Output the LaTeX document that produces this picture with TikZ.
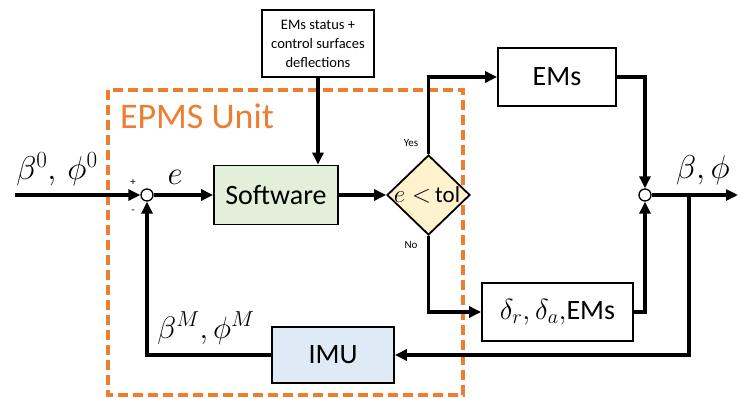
\RequirePackage{fix-cm}
\documentclass[tikz,border=0pt]{standalone}
\usepackage{fontspec}
\setmainfont{Carlito}
\usetikzlibrary{shapes.geometric,arrows.meta}
\definecolor{swgreen}{HTML}{E2F0D9}
\definecolor{imublue}{HTML}{DEEBF7}
\definecolor{decyel}{HTML}{FFF2CC}
\definecolor{epms}{HTML}{ED7D31}
\begin{document}
\begin{tikzpicture}[x=1pt,y=-1pt,
  blk/.style={draw, line width=1.8pt, inner sep=0pt, align=center},
  conn/.style={line width=3.5pt, -{Triangle[length=12pt,width=11pt]}},
  sumc/.style={circle, draw, fill=white, line width=1.3pt, minimum size=12pt, inner sep=0pt},
  big/.style={font=\fontsize{28}{32}\selectfont},
  mathlbl/.style={font=\fontsize{33}{38}\selectfont, inner sep=0pt},
  tiny/.style={font=\fontsize{11}{13}\selectfont, inner sep=0pt}]
\useasboundingbox (0,0) rectangle (740,399);
% EPMS unit frame
\draw[epms, line width=3.5pt, dash pattern=on 10pt off 5pt] (108,90) rectangle (463,395);
\node[epms, font=\fontsize{36}{40}\selectfont, inner sep=0pt] (epmslbl) at (197,116) {EPMS Unit};
% blocks
\node[blk, fill=swgreen, minimum width=124pt, minimum height=59pt, big] (sw) at (276,195) {Software};
\node[blk, minimum width=112pt, minimum height=67pt, font=\fontsize{14.5}{19}\selectfont] (top) at (318,43.5) {EMs status +\\control surfaces\\deflections};
\node[blk, minimum width=118pt, minimum height=58pt, big] (ems) at (557,77) {EMs};
\node[blk, minimum width=151pt, minimum height=58pt, big] (del) at (557.5,312) {{\fontsize{29}{32}\selectfont$\delta_r,\delta_a,$}EMs};
\node[blk, fill=imublue, minimum width=122pt, minimum height=56pt, big] (imu) at (333,355) {IMU};
\node[blk, diamond, fill=decyel, minimum width=83pt, minimum height=80pt] (dec) at (428.5,195) {};
\node[font=\fontsize{23}{24}\selectfont, inner sep=0pt] (declbl) at (427,195) {{\fontsize{25}{28}\selectfont$e<$}\,tol};
% summing junctions
\node[sumc] (s1) at (147,195) {};
\node[sumc] (s2) at (645,195) {};
\coordinate (in) at (15,195);
\coordinate (out) at (738,195);
\coordinate (br) at (689,195);
% labels
\node[mathlbl] (lin) at (57,169) {$\beta^0,\,\phi^0$};
\node[mathlbl] (le) at (175,177) {$e$};
\node[mathlbl] (lout) at (703,170) {$\beta,\phi$};
\node[mathlbl, font=\fontsize{31}{36}\selectfont] (lfb) at (206,328) {$\beta^M,\phi^M$};
\node[tiny] (plus) at (133,182) {+};
\node[tiny] (minus) at (133,212) {-};
\node[tiny] (yes) at (411,143) {Yes};
\node[tiny] (no) at (411,245) {No};
% connectors
\draw[conn] (in) -- (s1);
\draw[conn] (s1) -- (sw);
\draw[conn] (top.south) -- (top.south |- sw.north);
\draw[conn] (sw) -- (dec);
\draw[conn] (dec.north) |- (ems.west);
\draw[conn] (dec.south) |- (del.west);
\draw[conn] (ems.east) -| (s2.north);
\draw[conn] (del.east) -| (s2.south);
\draw[conn] (s2) -- (out);
\draw[conn] (br) |- (imu.east);
\draw[conn] (imu.west) -| (s1.south);
\end{tikzpicture}
\end{document}
